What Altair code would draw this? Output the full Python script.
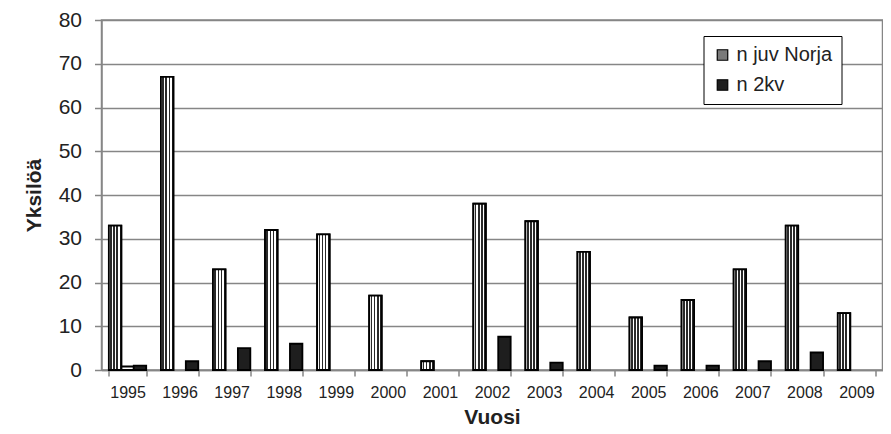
import altair as alt
import pandas as pd

years = [str(y) for y in range(1995, 2010)]
juv_norja = [33, 67, 23, 32, 31, 17, 2, 38, 34, 27, 12, 16, 23, 33, 13]
mid_series = [0.8, 0, 0, 0, 0, 0, 0, 0, 0, 0, 0, 0, 0, 0, 0]
n_2kv = [1, 2, 5, 6, 0, 0, 0, 7.6, 1.7, 0, 1, 1, 2, 4, 0]

series_names = ["n juv Norja", "muu", "n 2kv"]
series_values = [juv_norja, mid_series, n_2kv]

rows = []
for name, vals in zip(series_names, series_values):
    for yr, v in zip(years, vals):
        rows.append({"year": yr, "series": name, "value": v})
df = pd.DataFrame(rows)

GRID = "#868686"
TXT = "#222222"
FONT = "Liberation Sans"

x_enc = alt.X(
    "year:N",
    title="Vuosi",
    scale=alt.Scale(paddingInner=0.283, paddingOuter=0.1415),
    axis=alt.Axis(
        tickBand="extent", labelAngle=0, grid=False, tickSize=6,
        labelFontSize=16, labelPadding=8, titleFontSize=21,
        titleFontWeight="bold", titlePadding=6,
    ),
)
xo_enc = alt.XOffset(
    "series:N",
    scale=alt.Scale(domain=series_names, paddingInner=0, paddingOuter=0),
)
y_enc = alt.Y(
    "value:Q",
    title="Yksilöä",
    scale=alt.Scale(domain=[0, 80], nice=False),
    axis=alt.Axis(
        values=[0, 10, 20, 30, 40, 50, 60, 70, 80], tickSize=7,
        labelFontSize=21, labelPadding=13, titleFontSize=21,
        titleFontWeight="bold", titlePadding=14,
    ),
)

base = alt.Chart(df).transform_filter("datum.value > 0")

bars = base.mark_bar(stroke="black", strokeWidth=1.8).encode(
    x=x_enc,
    xOffset=xo_enc,
    y=y_enc,
    color=alt.Color(
        "series:N",
        scale=alt.Scale(domain=series_names, range=["#7a7a7a", "#ffffff", "#1e1e1e"]),
        legend=alt.Legend(
            title=None, values=["n juv Norja", "n 2kv"], orient="none",
            legendX=602, legendY=16, symbolType="square", symbolSize=110,
            symbolStrokeColor="black", symbolStrokeWidth=1.2,
            labelFontSize=20, labelOffset=4, rowPadding=10, padding=9,
            strokeColor="black", fillColor="white", labelColor=TXT,
            labelFont=FONT,
        ),
    ),
)

stops = []
n_periods = 4
for i in range(n_periods):
    s = i / n_periods
    w = 1 / n_periods
    stops.append(alt.GradientStop(color="#ffffff", offset=s))
    stops.append(alt.GradientStop(color="#ffffff", offset=s + w * 0.45))
    stops.append(alt.GradientStop(color="#2a2a2a", offset=s + w * 0.45))
    stops.append(alt.GradientStop(color="#2a2a2a", offset=min(s + w, 1)))

hatch = base.transform_filter("datum.series == 'n juv Norja'").mark_bar(
    stroke="black", strokeWidth=1.8,
    fill=alt.Gradient(gradient="linear", stops=stops, x1=0, y1=0, x2=1, y2=0),
).encode(x=x_enc, xOffset=xo_enc, y=y_enc)

chart = (
    alt.layer(bars, hatch)
    .properties(
        width=781, height=350,
        autosize=alt.AutoSizeParams(type="none"),
        padding={"left": 93.5, "top": 12, "right": 0, "bottom": 56},
        background="white",
    )
    .configure_view(stroke=GRID, strokeWidth=1.5)
    .configure_axis(
        domainColor=GRID, domainWidth=1.5, gridColor=GRID, gridWidth=1.5,
        tickColor=GRID, tickWidth=1.5, labelColor=TXT, titleColor=TXT,
        labelFont=FONT, titleFont=FONT,
    )
)

chart.save("out.html", embed_options={"renderer": "svg", "actions": False})
